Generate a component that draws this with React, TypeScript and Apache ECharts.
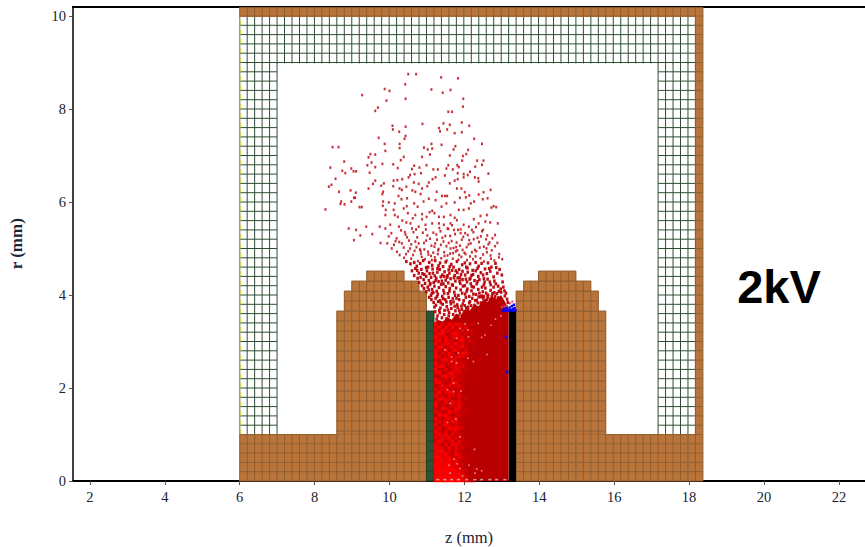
import React, { useEffect, useRef } from "react";
import * as echarts from "echarts";

const xTicks = [2, 4, 6, 8, 10, 12, 14, 16, 18, 20, 22];
const yTicks = [0, 2, 4, 6, 8, 10];
const zPitch = 0.1995;
const zOrigin = 6;

// [z0, r0, z1, r1, rPitch]
const meshRegions = [
  [6, 8.98, 18.17, 9.98, 0.2],
  [6, 1, 6.9975, 9, 0.2],
  [17.172, 1, 18.17, 9, 0.2],
];
const brownRegions = [
  [6, 9.98, 18.37, 10.19, 0.2],
  [18.17, 1, 18.37, 9.98, 0.2],
  [6, 0, 10.99, 1, 0.2],
  [13.38, 0, 18.37, 1, 0.2],
  [8.59, 1, 10.99, 3.655, 0.215],
  [8.79, 3.655, 10.99, 4.085, 0.215],
  [8.99, 4.085, 10.79, 4.3, 0.215],
  [9.39, 4.3, 10.39, 4.515, 0.215],
  [13.38, 1, 15.78, 3.655, 0.215],
  [13.38, 3.655, 15.58, 4.085, 0.215],
  [13.58, 4.085, 15.38, 4.3, 0.215],
  [13.98, 4.3, 14.98, 4.515, 0.215],
];
const greenRegions = [[10.99, 0, 11.19, 3.655, 0.215]];
const blackRegions = [[13.18, 0, 13.38, 3.655, 10]];

const plasmaOutline = [
  [11.19, 0], [11.19, 3.41], [11.3, 3.46], [11.42, 3.43], [11.55, 3.52], [11.66, 3.47], [11.78, 3.6], [11.9, 3.56],
  [12.02, 3.7], [12.14, 3.66], [12.26, 3.8], [12.38, 3.76], [12.5, 3.9], [12.62, 3.85], [12.74, 3.97], [12.86, 3.92],
  [12.98, 4.0], [13.08, 3.86], [13.18, 3.7], [13.18, 0],
];

// brightness of the plasma, top row first, left column at z = 11.19
const plasmaBrightness = [
  "92709385401300", "59183907260010", "81946270815200", "37902895140301", "95281694720010",
  "68093517804100", "90476293510200", "29815706930100", "84390682150010", "71529304870000",
  "96037158420100", "30894672100003", "82516094300100", "47902583610000", "91360475020001",
  "58027936100100", "20794851300000", "83150624010010", "69402781200000", "14937056100100",
  "72581403200000", "38069524000100", "80415736100000", "27946105020000", "63180947000100",
  "91502638100000", "40873196020000", "75219460300100", "18694025100000", "92057381000010",
  "46381970200000", "80596143100000", "37028695300100", "94160572000000", "58392704100010",
  "72849160300000", "39605817200100", "85170964020000", "96428173400000", "68935270100100",
  "87694195200000", "99578246300100", "79968592010000", "98799683410000", "99889754200100",
  "99998976430000", "99999889620100", "99999998741000", "99999999852100",
];

const upperParticles = [
  [10.5,8.75],[10.71,8.75],[11.38,8.68],[11.83,8.66],[10.42,8.53],[9.87,8.43],[10,8.39],[9.27,8.3],[11.12,8.42],[11.42,8.35],
  [11.63,8.41],[10.43,8.22],[9.92,8.18],[11.97,8.22],[11.96,8.05],[9.69,8.03],[9.62,7.96],[11.57,7.94],[11.67,7.94],[10.88,7.68],
  [11.44,7.69],[11.61,7.66],[11.93,7.71],[12.13,7.64],[10.08,7.64],[10.09,7.56],[10.43,7.62],[10.26,7.51],[11.32,7.59],[11.54,7.56],
  [11.35,7.52],[11.74,7.48],[11.93,7.5],[9.71,7.38],[10.43,7.42],[10.4,7.36],[12.26,7.36],[9.87,7.25],[10.27,7.25],[12.47,7.25],
  [11.39,7.23],[11.12,7.25],[10.92,7.17],[11.02,7.13],[11.14,7.15],[11.76,7.2],[11.71,7.13],[8.48,7.18],[8.64,7.18],[9.89,7.1],
  [10.27,7.16],[12.1,7.12],[12.05,7.03],[11.96,6.99],[11.61,7],[10.38,6.97],[10.87,6.97],[11.08,7.02],[9.49,7.03],[9.62,7.02],
  [9.44,6.96],[11.94,6.89],[12.34,6.89],[12.51,6.89],[8.79,6.87],[9.52,6.85],[9.41,6.79],[9.62,6.75],[9.81,6.82],[10.3,6.9],
  [10.1,6.81],[10.22,6.73],[10.66,6.78],[10.8,6.74],[10.6,6.71],[10.99,6.79],[11.17,6.7],[11.29,6.7],[11.52,6.72],[11.57,6.79],
  [11.81,6.79],[11.85,6.75],[11.69,6.7],[12.47,6.8],[12.29,6.76],[12.15,6.65],[8.42,6.74],[8.74,6.67],[8.98,6.72],[9.04,6.66],
  [9.11,6.66],[9.47,6.63],[8.82,6.62],[10.67,6.6],[10.84,6.62],[10.55,6.58],[11.48,6.57],[11.82,6.62],[11.98,6.6],[12.09,6.58],
  [12.64,6.61],[8.56,6.5],[9.62,6.46],[9.56,6.39],[9.44,6.29],[8.45,6.37],[8.38,6.33],[9.85,6.4],[9.78,6.35],[10.11,6.46],
  [10.21,6.47],[10.34,6.49],[10.51,6.53],[10.65,6.42],[10.78,6.39],[10.87,6.29],[11.01,6.34],[11.05,6.42],[11.23,6.53],[11.15,6.49],
  [11.61,6.4],[11.74,6.46],[11.82,6.49],[11.98,6.53],[12.28,6.53],[12.37,6.51],[12.38,6.44],[12.7,6.26],[8.65,6.22],[8.96,6.25],
  [9.1,6.2],[9.08,6.09],[9.83,6.22],[9.81,6.17],[10.1,6.34],[10.27,6.29],[10.33,6.26],[10.45,6.33],[10.61,6.25],[10.69,6.22],
  [10.83,6.17],[11.26,6.22],[11.4,6.13],[11.48,6.13],[11.54,6.13],[11.8,6.29],[11.92,6.29],[12.01,6.21],[12.13,6.14],[12.38,6.16],
  [12.51,6.21],[12.62,6.08],[12.49,6.06],[8.71,6.01],[8.69,5.96],[8.8,5.95],[8.98,6.01],[9.05,6.09],[9.2,5.89],[9.26,5.89],
  [8.29,5.84],[9.83,6.01],[9.98,5.99],[9.82,5.92],[10.14,5.97],[10.24,6.13],[10.32,6.06],[10.47,6.08],[10.46,5.91],[10.66,5.97],
  [10.75,5.9],[10.91,6.01],[11.05,6.07],[11.23,6.04],[11.39,5.9],[11.52,5.97],[11.74,5.99],[11.88,6.09],[12.04,6.1],[12.17,5.97],
  [12.26,6.01],[12.72,5.88],[12.85,5.89],[12.78,5.91],
];

const middleParticles = [
  [8.91,5.43],[9.11,5.4],[9.38,5.47],[9.22,5.28],[9.05,5.18],[9.54,5.31],[9.74,5.47],[9.76,5.12],[9.94,5.11],
  [9.9,5.83],[9.89,5.72],[10.11,5.83],[10.14,5.72],[10.22,5.68],[10.38,5.86],[10.49,5.76],[10.34,5.6],[10.45,5.56],[10.56,5.54],
  [10.69,5.72],[10.87,5.74],[10.99,5.68],[11.14,5.81],[11.2,5.76],[11.32,5.68],[11.45,5.68],[11.63,5.72],[11.85,5.83],[11.98,5.83],
  [12.12,5.86],[12.25,5.63],[12.43,5.7],[12.56,5.58],[12.69,5.56],[12.89,5.54],[12.12,5.47],[12.38,5.54],[11.98,5.51],[11.8,5.61],
  [11.63,5.54],[11.45,5.51],[11.32,5.54],[11.14,5.54],[10.96,5.51],[10.78,5.47],[10.6,5.43],[10.25,5.47],[10.02,5.51],[9.89,5.43],
  [10.87,5.63],[11.55,5.43],[11.72,5.4],[11.9,5.41],[12.2,5.4],[12.5,5.4],[11.07,5.78],[10.62,5.65],[11.74,5.66],[12.6,5.72],
  [10.05,5.33],[10.19,5.22],[10.31,5.39],[10.43,5.3],[10.52,5.17],[10.64,5.35],[10.74,5.24],[10.89,5.34],[10.97,5.41],[11.08,5.21],
  [11.17,5.34],[11.27,5.19],[11.36,5.37],[11.49,5.27],[11.57,5.42],[11.66,5.16],[11.75,5.31],[11.83,5.4],[11.93,5.19],[12.02,5.33],
  [12.13,5.18],[12.24,5.35],[12.35,5.23],[12.47,5.37],[12.58,5.2],[12.67,5.13],[12.82,5.29],[9.98,5.26],[10.12,5.08],[10.26,5.14],
  [10.38,5.02],[10.47,5.24],[10.58,5.09],[10.69,5.15],[10.81,4.98],[10.92,5.12],[11.01,5.28],[11.12,5.06],[11.22,5.11],[11.31,4.99],
  [11.41,5.23],[11.52,5.05],[11.62,5.27],[11.71,5.01],[11.79,5.13],[11.88,5.06],[11.97,5.25],[12.06,5.03],[12.17,5.11],[12.28,4.97],
  [12.39,5.14],[12.52,5.04],[12.61,5.28],[12.73,4.96],[12.88,5.12],[10.06,5],[10.2,4.93],[10.33,5.11],[10.44,4.88],[10.55,5],
  [10.63,4.86],[10.72,5.03],[10.84,4.89],[10.93,4.98],[11.03,4.93],[11.11,4.84],[11.2,5.04],[11.29,4.88],[11.37,5.08],[11.46,4.92],
  [11.55,4.85],[11.63,5],[11.7,4.9],[11.78,5.03],[11.86,4.86],[11.95,4.97],[12.03,4.88],[12.11,5.09],[12.2,4.92],[12.3,4.83],
  [12.41,5.02],[12.5,4.87],[12.59,5],[12.7,4.85],[12.82,5.05],[12.93,4.88],[10.27,4.86],[10.39,4.8],[10.5,4.94],[10.58,4.78],
  [10.67,4.95],[10.76,4.73],[10.86,4.82],[10.95,4.77],[11.04,4.87],[11.13,4.75],[11.21,4.81],[11.3,4.96],[11.38,4.79],[11.47,4.84],
  [11.53,4.74],[11.62,4.89],[11.69,4.78],[11.77,4.94],[11.84,4.76],[11.92,4.82],[12,4.91],[12.07,4.75],[12.15,4.83],[12.23,4.77],
  [12.32,4.94],[12.43,4.79],[12.52,4.72],[12.6,4.92],[12.71,4.78],[12.8,4.74],[12.92,4.81],[13.01,4.77],
  [10.16,5.16],[10.41,5.35],[10.78,5.11],[11.25,5.3],[11.58,5.12],[11.9,5.33],[12.44,5.26],[12.75,5.22],[10.83,4.95],[11.17,4.91],
  [11.44,5.15],[11.81,4.96],[12.25,5.2],[12.64,5.09],[10.98,5.17],[11.33,5.44],[12.09,5.29],[12.31,5.46],[10.71,5.41],[11.67,5.5],
];

const lowerParticles = [
  [10.45,4.72],[10.56,4.67],[10.66,4.7],[10.73,4.62],[10.82,4.68],[10.9,4.74],[10.98,4.59],[11.06,4.7],[11.14,4.64],[11.22,4.74],
  [11.28,4.57],[11.35,4.69],[11.43,4.61],[11.5,4.71],[11.58,4.54],[11.65,4.66],[11.71,4.6],[11.8,4.72],[11.86,4.55],[11.94,4.65],
  [12.01,4.69],[12.08,4.58],[12.15,4.67],[12.22,4.53],[12.3,4.7],[12.38,4.62],[12.46,4.68],[12.55,4.56],[12.63,4.69],[12.72,4.6],
  [12.83,4.68],[12.94,4.55],[10.6,4.52],[10.69,4.57],[10.78,4.47],[10.85,4.55],[10.93,4.44],[11,4.52],[11.07,4.46],[11.15,4.56],
  [11.21,4.41],[11.28,4.49],[11.34,4.55],[11.41,4.43],[11.47,4.5],[11.54,4.38],[11.6,4.47],[11.67,4.53],[11.74,4.42],[11.81,4.48],
  [11.88,4.37],[11.95,4.51],[12.02,4.43],[12.09,4.49],[12.16,4.36],[12.23,4.44],[12.3,4.52],[12.37,4.4],[12.44,4.48],[12.52,4.35],
  [12.6,4.46],[12.69,4.51],[12.78,4.39],[12.88,4.47],[13,4.43],[10.66,4.42],[10.75,4.36],[10.83,4.38],[10.91,4.33],[10.98,4.4],
  [11.05,4.31],[11.11,4.38],[11.18,4.27],[11.25,4.36],[11.31,4.29],[11.37,4.39],[11.44,4.24],[11.5,4.32],[11.57,4.26],[11.63,4.35],
  [11.69,4.21],[11.76,4.3],[11.82,4.37],[11.89,4.25],[11.95,4.33],[12.01,4.2],[12.07,4.28],[12.14,4.34],[12.2,4.18],[12.27,4.31],
  [12.33,4.24],[12.4,4.33],[12.47,4.17],[12.54,4.28],[12.62,4.34],[12.7,4.22],[12.8,4.3],[12.9,4.19],[13.02,4.28],[10.79,4.27],
  [10.87,4.2],[10.95,4.25],[11.02,4.17],[11.08,4.22],[11.14,4.12],[11.2,4.19],[11.26,4.08],[11.32,4.16],[11.38,4.23],[11.44,4.1],
  [11.5,4.18],[11.56,4.03],[11.61,4.14],[11.67,4.22],[11.73,4.06],[11.78,4.15],[11.84,3.99],[11.9,4.11],[11.96,4.19],[12.02,4.02],
  [12.08,4.13],[12.13,3.97],[12.19,4.09],[12.25,4.17],[12.31,4.01],[12.37,4.12],[12.43,3.96],[12.49,4.07],[12.56,4.15],[12.63,4],
  [12.7,4.1],[12.78,4.17],[12.87,4.03],[12.97,4.13],[13.07,4.09],[10.92,4.14],[10.98,4.07],[11.05,4.11],[11.11,3.99],[11.17,4.05],
  [11.23,3.93],[11.29,4.02],[11.35,3.88],[11.41,3.97],[11.46,4.04],[11.52,3.85],[11.58,3.95],[11.64,3.81],[11.69,3.92],[11.75,3.99],
  [11.81,3.79],[11.86,3.9],[11.92,3.76],[11.98,3.88],[12.04,3.95],[12.1,3.74],[12.15,3.86],[12.21,3.93],[12.27,3.78],[12.33,3.89],
  [12.38,3.96],[12.44,3.83],[12.5,3.93],[12.56,3.88],[12.62,3.96],[12.68,3.91],[12.75,4.03],[12.82,3.97],[12.9,3.94],[12.98,4.06],
  [13.08,3.98],[11.06,3.95],[11.12,3.9],[11.18,3.84],[11.24,3.78],[11.3,3.86],[11.36,3.72],[11.42,3.8],[11.47,3.67],[11.53,3.75],
  [11.59,3.62],[11.65,3.71],[11.7,3.58],[11.76,3.66],[11.82,3.73],[11.88,3.61],[11.93,3.69],[11.99,3.64],[12.05,3.72],[12.1,3.68],
  [13.14,3.91],[13.16,3.84],[11.22,3.64],[11.28,3.55],[11.34,3.62],[11.4,3.51],[11.46,3.58],[11.52,3.49],[11.58,3.55],[11.26,3.48],
  [10.74,4.53],[10.88,4.46],[11.03,4.6],[11.16,4.47],[11.31,4.63],[11.46,4.4],[11.61,4.61],[11.77,4.52],[11.91,4.44],[12.05,4.6],
  [12.19,4.42],[12.35,4.57],[12.5,4.43],[12.66,4.57],[12.85,4.59],[11.09,4.25],[11.23,4.31],[11.4,4.3],[11.55,4.42],[11.72,4.37],
  [11.87,4.3],[12.04,4.34],[12.17,4.24],[12.35,4.29],[12.52,4.22],[12.68,4.28],[12.84,4.24],[11.13,4.04],[11.27,3.97],[11.43,3.92],
  [11.6,4.08],[11.71,3.85],[11.94,4.04],[12.06,4.08],[12.24,4.02],[12.4,4.04],[12.58,4.04],[12.73,3.97],[12.92,4.08],[13.04,4.17],
  [11.37,3.83],[11.49,3.9],[11.63,3.86],[11.79,3.93],[11.96,3.81],[12.13,3.83],[12.29,3.88],[12.46,3.98],[12.6,3.9],[12.8,4.05],
  [13.11,4.04],[11.2,3.74],[11.33,3.67],[11.56,3.68],[11.74,3.76],[11.86,3.67],[12.01,3.77],[12.18,3.77],[12.36,3.83],[12.52,3.97],
];

const paleSpecks = [
  [12.11,3.1],[12.09,2.64],[12.6,2.72],[12.24,2.57],[12.09,3.25],[11.88,3.28],[12.71,3.35],[12.37,3.39],[11.48,2.82],[11.66,2.67],
  [11.84,2.75],[11.66,2.57],[11.79,2.54],[11.71,2.1],[11.55,1.96],[11.71,1.92],[11.91,1.93],[12.55,3.14],[12.46,3.09],[12.83,3.48],
  [12.98,3.55],[11.88,3.53],[12.02,3.38],[11.79,3.07],[11.62,1.67],[11.55,1.26],[11.77,1.33],[11.88,0.95],[12.27,0.68],[11.72,0.47],
  [11.81,0.37],[11.59,0.34],[12.12,0.34],[11.88,0.27],[12.33,0.26],[11.62,0.17],[12.28,0.17],[11.95,0.11],[12.46,0.22],
];
const floorSpecks = [
  [11.29,0.03],[11.48,0.03],[11.66,0.03],[11.84,0.03],[12.06,0.03],[12.28,0.03],[12.46,0.03],[12.68,0.03],[12.86,0.03],[13.08,0.03],
];

const blueParticles = [
  [13.02,3.66],[13.06,3.7],[13.1,3.66],[13.14,3.71],[13.18,3.67],[13.21,3.73],[13.24,3.68],[13.27,3.76],[13.3,3.7],[13.32,3.79],
  [13.34,3.72],[13.36,3.67],[13.29,3.66],[13.2,3.66],[13.11,3.1],[13.14,2.34],
];
const pinkParticles = [[13.0,3.74],[13.07,3.76],[13.14,3.77],[13.22,3.82],[13.28,3.86]];

const annotation = "2kV";
const brown = "#b9743a";
const brownLine = "#8f5e31";

function latticeSeries(regions: number[][], fill: string, lineColor: string, z: number) {
  return {
    type: "custom",
    z,
    silent: true,
    data: regions.map((_, i) => [i]),
    renderItem: (params: any, api: any) => {
      const [z0, r0, z1, r1, rPitch] = regions[params.dataIndex];
      const a = api.coord([z0, r1]);
      const b = api.coord([z1, r0]);
      const children: any[] = [];
      if (fill !== "none") {
        children.push({ type: "rect", shape: { x: a[0], y: a[1], width: b[0] - a[0], height: b[1] - a[1] }, style: { fill } });
      }
      if (lineColor !== "none") {
        for (let k = 0; k <= 70; k++) {
          const zv = zOrigin + k * zPitch;
          if (zv < z0 - 0.01 || zv > z1 + 0.01) continue;
          const p = api.coord([zv, 0])[0];
          children.push({ type: "line", shape: { x1: p, y1: a[1], x2: p, y2: b[1] }, style: { stroke: lineColor, lineWidth: 1 } });
        }
        for (let k = 0; k <= 60; k++) {
          const rv = k * rPitch;
          if (rv < r0 - 0.01 || rv > r1 + 0.01) continue;
          const p = api.coord([0, rv])[1];
          children.push({ type: "line", shape: { x1: a[0], y1: p, x2: b[0], y2: p }, style: { stroke: lineColor, lineWidth: 1 } });
        }
      }
      return { type: "group", children };
    },
  };
}

function dotSeries(points: number[][], color: string, size: number[], opacity: number, z: number) {
  return {
    type: "scatter",
    z,
    silent: true,
    symbol: "rect",
    symbolSize: size,
    itemStyle: { color, opacity },
    data: points,
  };
}

function shade(level: number) {
  const g = Math.round(184 + (255 - 184) * (level / 9));
  return `rgb(${g},0,0)`;
}

export default function App() {
  const ref = useRef<HTMLDivElement>(null);
  useEffect(() => {
    document.body.style.margin = "0";
    const chart = echarts.init(ref.current!, null, { renderer: "svg" });
    const serif = "'Liberation Serif', serif";
    const zMin = 6 - 166.7 / 37.45;
    const zMax = zMin + 792 / 37.45;
    const rMax = 474.5 / 46.5;
    chart.setOption({
      animation: false,
      backgroundColor: "#ffffff",
      grid: { left: 73, right: 0, top: 6.5, bottom: 66, outerBoundsMode: "none" },
      xAxis: [
        {
          type: "value", min: zMin, max: zMax, position: "bottom",
          name: "z (mm)", nameLocation: "middle", nameGap: 48,
          nameTextStyle: { fontFamily: serif, fontSize: 16.5, color: "#1a2233" },
          axisLine: { onZero: false, lineStyle: { color: "#000", width: 2 } },
          axisTick: { show: true, length: 4, customValues: xTicks, lineStyle: { color: "#555" } },
          axisLabel: { customValues: xTicks, fontFamily: serif, fontSize: 14.5, color: "#1a2233", margin: 8 },
          splitLine: { show: false },
        },
        {
          type: "value", min: zMin, max: zMax, position: "top",
          axisLine: { onZero: false, lineStyle: { color: "#000", width: 2 } },
          axisTick: { show: false }, axisLabel: { show: false }, splitLine: { show: false },
        },
      ],
      yAxis: {
        type: "value", min: 0, max: rMax,
        name: "r (mm)", nameLocation: "middle", nameGap: 48,
        nameTextStyle: { fontFamily: serif, fontSize: 17, fontWeight: "bold", color: "#1a2233" },
        axisLine: { onZero: false, lineStyle: { color: "#000", width: 1.5 } },
        axisTick: { show: true, length: 4, customValues: yTicks, lineStyle: { color: "#555" } },
        axisLabel: { customValues: yTicks, fontFamily: serif, fontSize: 14.5, color: "#1a2233", margin: 7 },
        splitLine: { show: false },
      },
      graphic: [
        {
          type: "text", x: 779, y: 286, z: 100,
          style: {
            text: annotation, fontFamily: "'Liberation Sans', Arial, sans-serif", fontWeight: "bold",
            fontSize: 47, fill: "#000", align: "center", verticalAlign: "middle",
          },
        },
      ],
      series: [
        latticeSeries(meshRegions, "none", "#2f4f33", 1),
        {
          type: "custom", z: 2, silent: true, data: [[0]],
          renderItem: (_: any, api: any) => ({
            type: "group",
            children: [
              { type: "line", shape: { x1: api.coord([6, 0])[0], y1: api.coord([6, 1])[1], x2: api.coord([6, 0])[0], y2: api.coord([6, 10])[1] }, style: { stroke: "#a8a8a0", lineWidth: 1 } },
              { type: "line", shape: { x1: api.coord([6, 0])[0] + 1, y1: api.coord([6, 1])[1], x2: api.coord([6, 0])[0] + 1, y2: api.coord([6, 10])[1] }, style: { stroke: "#cfcf3f", lineWidth: 1, lineDash: [5, 4.3] } },
            ],
          }),
        },
        latticeSeries(brownRegions, brown, brownLine, 3),
        latticeSeries(greenRegions, "#2f5230", "#263f28", 3),
        latticeSeries(blackRegions, "#000000", "none", 3),
        {
          type: "custom", z: 4, silent: true, data: [[0]],
          renderItem: (_: any, api: any) => ({
            type: "polygon",
            shape: { points: plasmaOutline.map((p) => api.coord(p)) },
            style: { fill: "#b80000" },
          }),
        },
        {
          type: "custom", z: 5, silent: true,
          data: plasmaBrightness.flatMap((row, i) => row.split("").map((c, j) => [j, i, Number(c)])).filter((d) => d[2] > 0),
          renderItem: (_: any, api: any) => {
            const j = api.value(0);
            const i = api.value(1);
            const dz = 0.09;
            const dr = 0.07;
            const a = api.coord([11.19 + j * dz, 3.41 - i * dr]);
            const b = api.coord([11.19 + (j + 1) * dz, 3.41 - (i + 1) * dr]);
            return {
              type: "rect",
              shape: { x: a[0], y: a[1], width: b[0] - a[0] + 0.3, height: b[1] - a[1] + 0.3 },
              style: { fill: shade(api.value(2)) },
            };
          },
        },
        dotSeries(upperParticles, "#bd0a14", [2, 2.6], 0.85, 6),
        dotSeries(middleParticles, "#bd0a14", [2, 2.6], 0.85, 6),
        dotSeries(lowerParticles, "#b80008", [2.6, 3.2], 0.95, 6),
        dotSeries(paleSpecks, "#ee9c9c", [1.6, 1.6], 0.9, 7),
        dotSeries(floorSpecks, "#d8a8a8", [3, 1.6], 0.9, 7),
        dotSeries(pinkParticles, "#e8405a", [2, 2], 1, 7),
        dotSeries(blueParticles, "#0000ff", [2.5, 2.5], 1, 8),
      ],
    });
    return () => chart.dispose();
  }, []);
  return <div ref={ref} style={{ width: 865, height: 547 }} />;
}
